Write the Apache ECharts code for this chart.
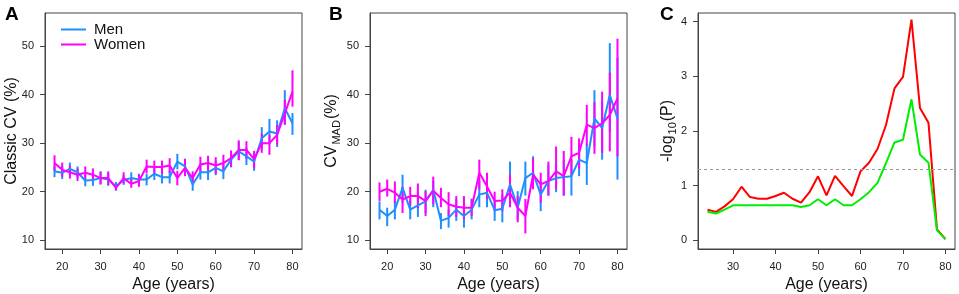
<!DOCTYPE html>
<html>
<head>
    <meta charset="utf-8">
    <title>CV by age</title>
    <script type="text/javascript" src="https://cdn.jsdelivr.net/npm/echarts@6/dist/echarts.min.js"></script>
    <style>
        html, body { margin: 0; padding: 0; background: #fff; }
    </style>
</head>
<body>
<div id="chartmain" style="width:959px; height:294px;"></div>
<script type="text/javascript">
// ages for panels A and B
var ages = [18, 20, 22, 24, 26, 28, 30, 32, 34, 36, 38, 40, 42, 44, 46, 48,
            50, 52, 54, 56, 58, 60, 62, 64, 66, 68, 70, 72, 74, 76, 78, 80];
// ages for panel C
var agesC = [24, 26, 28, 30, 32, 34, 36, 38, 40, 42, 44, 46, 48, 50, 52, 54,
             56, 58, 60, 62, 64, 66, 68, 70, 72, 74, 76, 78, 80];

// A: classic CV (%)
var menCV = [24.2, 23.9, 24.7, 24.0, 22.3, 22.4, 22.8, 22.5, 21.1, 22.4, 22.8, 22.5, 22.5, 23.7, 23.0, 23.0,
             26.2, 25.2, 21.5, 24.0, 24.0, 24.9, 24.2, 26.6, 28.3, 27.3, 26.2, 31.0, 32.4, 32.0, 37.2, 34.1];
var menCVLow = [23.0, 22.6, 23.4, 22.8, 21.1, 21.2, 21.5, 21.2, 20.2, 21.4, 21.7, 21.3, 21.3, 22.4, 21.7, 21.7,
                24.6, 23.5, 20.2, 22.5, 22.4, 23.4, 22.6, 25.0, 26.5, 25.5, 24.3, 28.7, 29.8, 29.2, 33.8, 31.7];
var menCVHigh = [25.4, 25.3, 26.0, 25.2, 23.6, 23.7, 24.2, 23.8, 22.0, 23.4, 24.0, 23.7, 23.7, 25.0, 24.4, 24.4,
                 27.8, 26.8, 23.0, 25.6, 25.6, 26.4, 25.8, 28.2, 30.2, 29.1, 28.1, 33.3, 35.0, 34.7, 40.9, 36.2];
var womenCV = [25.9, 24.5, 24.0, 23.5, 23.9, 23.5, 22.8, 22.8, 20.8, 22.8, 21.6, 22.2, 25.2, 25.1, 25.1, 25.4,
               22.8, 24.9, 22.8, 25.6, 25.9, 25.4, 25.9, 26.9, 28.6, 28.6, 26.7, 30.0, 30.0, 31.7, 36.1, 40.6];
var womenCVLow = [24.3, 23.1, 22.7, 22.2, 22.6, 22.2, 21.5, 21.4, 20.3, 21.7, 20.8, 21.0, 23.8, 23.7, 23.7, 23.9,
                  21.3, 23.2, 21.5, 24.0, 24.4, 23.7, 24.2, 25.2, 26.5, 26.8, 24.8, 28.0, 27.6, 29.7, 33.8, 37.5];
var womenCVHigh = [27.5, 26.0, 25.3, 24.8, 25.2, 24.8, 24.1, 24.2, 21.5, 24.0, 22.8, 23.5, 26.6, 26.4, 26.4, 26.9,
                   24.3, 26.7, 24.2, 27.2, 27.4, 27.1, 27.6, 28.5, 30.6, 30.4, 28.4, 32.0, 31.7, 33.7, 38.9, 45.0];

// B: CV MAD (%)
var menMAD = [16.3, 15.0, 16.3, 20.8, 16.3, 17.2, 18.0, 20.4, 14.0, 14.6, 16.3, 15.0, 16.3, 19.4, 19.8, 16.2,
              16.5, 21.5, 16.7, 22.8, 23.9, 19.4, 22.2, 22.8, 23.0, 23.2, 26.6, 25.9, 35.1, 33.1, 39.9, 35.1];
var menMADLow = [14.3, 12.9, 14.3, 17.7, 14.3, 14.8, 15.6, 16.8, 12.3, 12.6, 14.0, 12.6, 14.3, 16.8, 16.8, 14.0,
                 13.7, 17.0, 14.3, 19.2, 20.8, 16.0, 19.2, 19.9, 19.2, 19.2, 23.2, 21.4, 29.3, 26.6, 32.3, 22.5];
var menMADHigh = [18.0, 16.7, 18.4, 23.5, 18.4, 20.0, 20.4, 22.3, 15.6, 16.3, 18.4, 17.4, 18.6, 22.3, 22.6, 18.4,
                  19.4, 26.2, 20.1, 26.2, 27.3, 22.2, 25.5, 25.9, 26.6, 26.6, 29.8, 29.8, 40.9, 38.6, 50.6, 47.6];
var womenMAD = [20.0, 20.6, 19.8, 18.4, 19.1, 19.1, 18.1, 20.2, 18.7, 17.4, 16.9, 16.7, 16.7, 23.9, 21.1, 18.1,
                18.2, 19.8, 16.7, 15.0, 23.5, 21.5, 22.2, 24.2, 23.2, 27.3, 28.0, 33.8, 33.1, 34.1, 35.8, 39.2];
var womenMADLow = [18.1, 19.0, 17.7, 15.6, 17.2, 16.6, 15.0, 17.4, 16.8, 15.0, 14.8, 14.3, 15.0, 20.5, 18.4, 16.0,
                   16.0, 16.8, 13.7, 11.4, 20.5, 17.7, 19.2, 20.5, 19.2, 23.2, 24.7, 29.5, 27.8, 28.0, 28.3, 27.3];
var womenMADHigh = [21.9, 22.5, 22.1, 21.0, 21.0, 21.7, 20.1, 23.1, 20.8, 19.9, 19.1, 19.1, 18.4, 26.6, 23.9, 20.0,
                    20.5, 23.5, 19.1, 18.5, 26.9, 23.9, 26.2, 29.3, 28.4, 31.3, 31.0, 37.9, 38.4, 40.6, 44.5, 51.5];

// C: -log10(P)
var pRed = [0.56, 0.52, 0.62, 0.75, 0.98, 0.79, 0.76, 0.76, 0.81, 0.87, 0.76, 0.69, 0.88, 1.17, 0.82, 1.18,
            0.99, 0.81, 1.26, 1.42, 1.67, 2.11, 2.78, 2.99, 4.04, 2.42, 2.15, 0.20, 0.02];
var pGreen = [0.52, 0.49, 0.56, 0.64, 0.64, 0.64, 0.64, 0.64, 0.64, 0.64, 0.64, 0.61, 0.64, 0.75, 0.64, 0.75,
              0.64, 0.64, 0.75, 0.88, 1.05, 1.41, 1.79, 1.84, 2.58, 1.57, 1.42, 0.18, 0.02];
var pCut = 1.3;

var ticksAB_x = [20, 30, 40, 50, 60, 70, 80];
var ticksAB_y = [10, 20, 30, 40, 50];
var ticksC_x = [30, 40, 50, 60, 70, 80];
var ticksC_y = [0, 1, 2, 3, 4];

var FONT = 'Liberation Sans, Arial, Helvetica, sans-serif';
var BLUE = '#1e8fff';
var PINK = '#ff00ff';

function pairs(xs, ys) {
    return xs.map(function (x, i) { return [x, ys[i]]; });
}

function errorBars(name, xs, lo, hi, color, idx) {
    return {
        name: name,
        type: 'custom',
        xAxisIndex: idx,
        yAxisIndex: idx,
        silent: true,
        data: xs.map(function (x, i) { return [x, lo[i], hi[i]]; }),
        encode: { x: 0, y: [1, 2] },
        renderItem: function (params, api) {
            var p1 = api.coord([api.value(0), api.value(1)]);
            var p2 = api.coord([api.value(0), api.value(2)]);
            return {
                type: 'line',
                shape: { x1: p1[0], y1: p1[1], x2: p2[0], y2: p2[1] },
                style: { stroke: color, lineWidth: 2 }
            };
        }
    };
}

function lineSeries(name, xs, ys, color, idx, extra) {
    var s = {
        name: name,
        type: 'line',
        xAxisIndex: idx,
        yAxisIndex: idx,
        data: pairs(xs, ys),
        showSymbol: false,
        symbol: 'none',
        silent: true,
        lineStyle: { color: color, width: 2 },
        itemStyle: { color: color },
        z: 3
    };
    if (extra) { for (var k in extra) s[k] = extra[k]; }
    return s;
}

function xAxisCfg(idx, min, max, ticks) {
    return {
        type: 'value', gridIndex: idx, min: min, max: max,
        name: 'Age (years)', nameLocation: 'middle', nameGap: 26,
        nameTextStyle: { fontFamily: FONT, fontSize: 16, color: '#111' },
        axisLine: { show: true, onZero: false, lineStyle: { color: '#444', width: 1 } },
        axisTick: { show: true, length: 5, customValues: ticks, lineStyle: { color: '#444' } },
        axisLabel: { customValues: ticks, margin: 12, fontFamily: FONT, fontSize: 11, color: '#222' },
        splitLine: { show: false }
    };
}

function yAxisCfg(idx, min, max, ticks, name, gap, rich) {
    return {
        type: 'value', gridIndex: idx, min: min, max: max,
        name: name, nameLocation: 'middle', nameGap: gap, nameRotate: 90,
        nameMoveOverlap: false,
        nameTextStyle: { fontFamily: FONT, fontSize: 16, color: '#111', rich: rich || {} },
        axisLine: { show: true, onZero: false, lineStyle: { color: '#444', width: 1 } },
        axisTick: { show: true, length: 5, customValues: ticks, lineStyle: { color: '#444' } },
        axisLabel: { customValues: ticks, margin: 11, fontFamily: FONT, fontSize: 11, color: '#222' },
        splitLine: { show: false }
    };
}

var subRich = {
    a: { fontFamily: FONT, fontSize: 16, color: '#111' },
    b: { fontFamily: FONT, fontSize: 11, color: '#111', padding: [9, 1, 0, 1] }
};

function gridCfg(left) {
    return {
        left: left, top: 13, width: 257, height: 236,
        show: true, borderColor: '#444', borderWidth: 1,
        containLabel: false, outerBoundsMode: 'none'
    };
}

var option = {
    animation: false,
    backgroundColor: '#fff',
    grid: [gridCfg(45), gridCfg(370), gridCfg(698)],
    legend: {
        data: ['Men', 'Women'],
        orient: 'vertical',
        left: 56, top: 17,
        itemWidth: 25, itemHeight: 2, itemGap: 0,
        icon: 'rect',
        textStyle: { fontFamily: FONT, fontSize: 15, color: '#111', lineHeight: 15, padding: [0, 0, 0, 3] }
    },
    graphic: [
        { type: 'text', left: 5, top: 5, style: { text: 'A', font: 'bold 19px ' + FONT, fill: '#000' } },
        { type: 'text', left: 329, top: 5, style: { text: 'B', font: 'bold 19px ' + FONT, fill: '#000' } },
        { type: 'text', left: 660, top: 5, style: { text: 'C', font: 'bold 19px ' + FONT, fill: '#000' } }
    ],
    xAxis: [
        xAxisCfg(0, 15.52, 82.48, ticksAB_x),
        xAxisCfg(1, 15.52, 82.48, ticksAB_x),
        xAxisCfg(2, 21.76, 82.24, ticksC_x)
    ],
    yAxis: [
        yAxisCfg(0, 8.2, 56.8, ticksAB_y, 'Classic CV (%)', 25),
        yAxisCfg(1, 8.2, 56.8, ticksAB_y, '{a|CV}{b|MAD}{a|(%)}', 28, subRich),
        yAxisCfg(2, -0.16, 4.16, ticksC_y, '{a|-log}{b|10}{a|(P)}', 20, subRich)
    ],
    series: [
        lineSeries('Men', ages, menCV, BLUE, 0),
        errorBars('menCVbar', ages, menCVLow, menCVHigh, BLUE, 0),
        lineSeries('Women', ages, womenCV, PINK, 0),
        errorBars('womenCVbar', ages, womenCVLow, womenCVHigh, PINK, 0),

        lineSeries('MenMAD', ages, menMAD, BLUE, 1),
        errorBars('menMADbar', ages, menMADLow, menMADHigh, BLUE, 1),
        lineSeries('WomenMAD', ages, womenMAD, PINK, 1),
        errorBars('womenMADbar', ages, womenMADLow, womenMADHigh, PINK, 1),

        lineSeries('pRed', agesC, pRed, '#ff0000', 2, {
            markLine: {
                silent: true, symbol: 'none', label: { show: false },
                lineStyle: { color: '#999', type: [3, 3], width: 1 },
                data: [{ yAxis: pCut }]
            }
        }),
        lineSeries('pGreen', agesC, pGreen, '#00ee00', 2)
    ]
};

var myChart = echarts.init(document.getElementById('chartmain'));
myChart.setOption(option);
</script>
</body>
</html>
